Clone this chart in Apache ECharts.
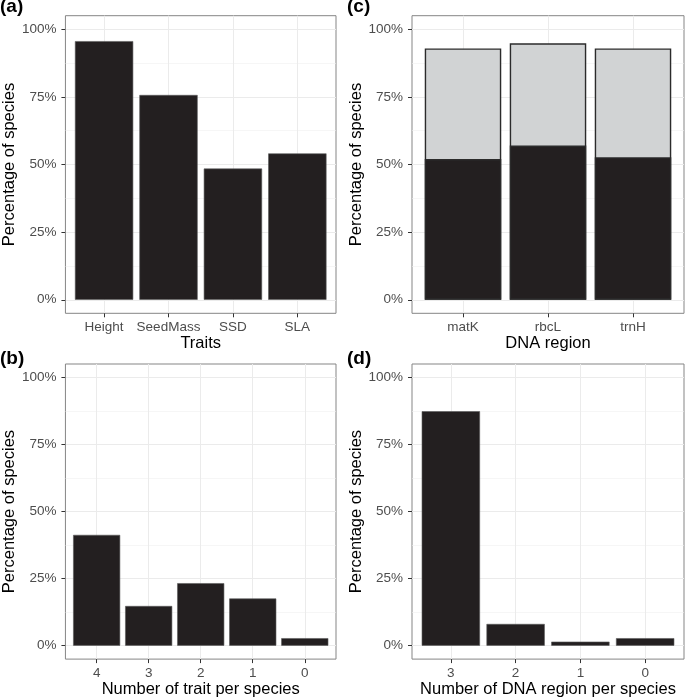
<!DOCTYPE html>
<html>
<head>
<meta charset="utf-8">
<script src="https://cdn.jsdelivr.net/npm/echarts@6/dist/echarts.min.js"></script>
<style>
html,body{margin:0;padding:0;background:#fff;}
#c{width:685px;height:699px;}
</style>
</head>
<body>
<div id="c"></div>
<script>
// ---- data ----
const traitCats = ['Height', 'SeedMass', 'SSD', 'SLA'];
const traitPct = [95.6, 75.7, 48.5, 54.1];

const nTraitCats = ['4', '3', '2', '1', '0'];
const nTraitPct = [41.3, 14.8, 23.3, 17.6, 2.8];

const dnaCats = ['matK', 'rbcL', 'trnH'];
const dnaTotal = [92.9, 94.8, 92.9];   // top of each stacked bar
const dnaBoth = [52.0, 57.0, 52.7];    // dark lower segment

const nDnaCats = ['3', '2', '1', '0'];
const nDnaPct = [87.4, 8.1, 1.5, 2.8];

const yTicks = [0, 25, 50, 75, 100];
const yMinorTicks = [12.5, 37.5, 62.5, 87.5];

// ---- layout ----
const FONT = 'Liberation Sans, Arial, Helvetica, sans-serif';
const panels = [
  {key:'a', left:64, top:15.7, width:272, height:297.6, cats:traitCats, xname:'Traits'},
  {key:'c', left:412, top:15.7, width:272, height:297.6, cats:dnaCats, xname:'DNA region'},
  {key:'b', left:64, top:364, width:272, height:297, cats:nTraitCats, xname:'Number of trait per species'},
  {key:'d', left:412, top:364, width:272, height:297, cats:nDnaCats, xname:'Number of DNA region per species'}
];

const grids = [], xAxes = [], yAxes = [], series = [];
panels.forEach((p, i) => {
  grids.push({left:p.left, top:p.top, width:p.width, height:p.height, show:true,
    borderColor:'#858585', borderWidth:1, backgroundColor:'#fff', containLabel:false});
  const n = p.cats.length;
  const idx = p.cats.map((c, k) => k);
  xAxes.push({
    type:'value', gridIndex:i, min:-0.6, max:n - 1 + 0.6, position:'bottom',
    name:p.xname, nameLocation:'middle', nameGap:20,
    nameTextStyle:{fontFamily:FONT, fontSize:16.5, color:'#000', verticalAlign:'top'},
    axisLine:{show:false, onZero:false},
    axisTick:{show:true, length:4, lineStyle:{color:'#333', width:1}, customValues:idx},
    axisLabel:{show:true, margin:7, fontFamily:FONT, fontSize:13.5, color:'#4d4d4d',
      customValues:idx, formatter:(v) => p.cats[Math.round(v)]},
    splitLine:{show:true, lineStyle:{color:'#ebebeb', width:1}}
  });
  yAxes.push({
    type:'value', gridIndex:i, min:-5, max:105, position:'left',
    name:'Percentage of species', nameLocation:'middle', nameRotate:90, nameGap:37,
    nameTextStyle:{fontFamily:FONT, fontSize:16.5, color:'#000'},
    axisLine:{show:false, onZero:false},
    axisTick:{show:true, length:4, lineStyle:{color:'#333', width:1}, customValues:yTicks},
    axisLabel:{show:true, margin:9, fontFamily:FONT, fontSize:13.5, color:'#4d4d4d',
      customValues:yTicks, formatter:(v) => Math.round(v) + '%'},
    splitLine:{show:true, lineStyle:{color:'#ebebeb', width:1}}
  });
  yAxes.push({
    type:'value', gridIndex:i, min:-5, max:105, position:'left',
    axisLine:{show:false, onZero:false},
    axisTick:{show:false, customValues:yMinorTicks},
    axisLabel:{show:false, customValues:yMinorTicks},
    splitLine:{show:true, lineStyle:{color:'#f0f0f0', width:0.6}}
  });
});
// extra hidden x axis for the overlaid dark segments of panel (c)
xAxes.push({
  type:'value', gridIndex:1, min:-0.6, max:dnaCats.length - 1 + 0.6, position:'bottom',
  axisLine:{show:false, onZero:false}, axisTick:{show:false}, axisLabel:{show:false},
  splitLine:{show:false}
});

// bar width = 0.9 of one category step; axis spans n + 0.2 steps
function barW(p) { return 0.9 * p.width / (p.cats.length + 0.2); }
const plain = {color:'#231f20', borderColor:'#5a5a5a', borderWidth:0.6};

// panel a
series.push({type:'bar', xAxisIndex:0, yAxisIndex:0, barWidth:barW(panels[0]), barCategoryGap:'0%',
  data:traitPct.map((v, k) => [k, v]), itemStyle:plain});
// panel c: light full bar, dark lower segment over it
series.push({type:'bar', xAxisIndex:1, yAxisIndex:2, barWidth:barW(panels[1]), barCategoryGap:'0%',
  data:dnaTotal.map((v, k) => [k, v]),
  itemStyle:{color:'#d1d3d4', borderColor:'#2b2b2b', borderWidth:1.4}});
series.push({type:'bar', xAxisIndex:4, yAxisIndex:2, barWidth:barW(panels[1]), barCategoryGap:'0%',
  data:dnaBoth.map((v, k) => [k, v]),
  itemStyle:{color:'#231f20', borderColor:'#2b2b2b', borderWidth:1.4}});
// panel b
series.push({type:'bar', xAxisIndex:2, yAxisIndex:4, barWidth:barW(panels[2]), barCategoryGap:'0%',
  data:nTraitPct.map((v, k) => [k, v]), itemStyle:plain});
// panel d
series.push({type:'bar', xAxisIndex:3, yAxisIndex:6, barWidth:barW(panels[3]), barCategoryGap:'0%',
  data:nDnaPct.map((v, k) => [k, v]), itemStyle:plain});

const titleStyle = {fontFamily:FONT, fontSize:19, fontWeight:'bold', color:'#000'};
const option = {
  animation:false,
  backgroundColor:'#fff',
  title:[
    {text:'(a)', left:0, top:-3, padding:0, textStyle:titleStyle},
    {text:'(c)', left:347, top:-3, padding:0, textStyle:titleStyle},
    {text:'(b)', left:0, top:349, padding:0, textStyle:titleStyle},
    {text:'(d)', left:347, top:349, padding:0, textStyle:titleStyle}
  ],
  grid:grids, xAxis:xAxes, yAxis:yAxes, series:series
};
const chart = echarts.init(document.getElementById('c'), null, {renderer:'canvas'});
chart.setOption(option);
</script>
</body>
</html>
